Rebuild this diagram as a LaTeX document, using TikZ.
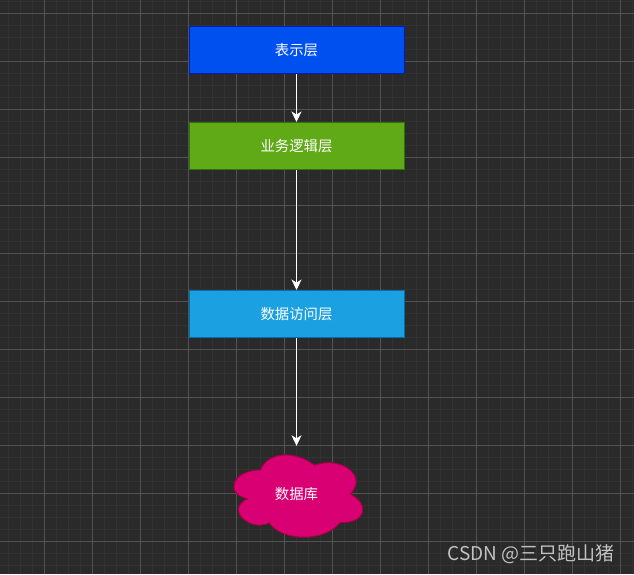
\documentclass[tikz,border=0pt]{standalone}
\usepackage{fontspec}
\setmainfont{Noto Sans CJK SC}
\usetikzlibrary{arrows.meta, positioning}
\usepackage{xcolor}
\definecolor{canvasbg}{HTML}{2A2A2A}
\definecolor{gridminor}{HTML}{323232}
\definecolor{gridmajor}{HTML}{535353}
\definecolor{presfill}{HTML}{0050EF}
\definecolor{presline}{HTML}{001DBC}
\definecolor{bizfill}{HTML}{60A917}
\definecolor{bizline}{HTML}{2D7600}
\definecolor{dalfill}{HTML}{1BA1E2}
\definecolor{dalline}{HTML}{006EAF}
\definecolor{dbfill}{HTML}{D80073}
\definecolor{dbline}{HTML}{A50040}

\begin{document}
\begin{tikzpicture}[
      x=1pt, y=-1pt,
      node distance=48pt,
      layer/.style={draw, line width=1pt, minimum width=215pt, minimum height=47pt, text=white, font=\fontsize{14.4}{16}\selectfont},
      dbtext/.style={minimum width=144pt, minimum height=96pt, inner sep=0pt, text=white, font=\fontsize{14.4}{16}\selectfont},
      cloudline/.style={fill=dbfill, draw=dbline, line width=1pt},
      link/.style={draw=white, line width=1pt, -{Stealth[length=10.5pt, width=10pt, inset=3pt]}},
      minorline/.style={draw=gridminor, line width=1pt},
      majorline/.style={draw=gridmajor, line width=1pt}
    ]
    \useasboundingbox (0,0) rectangle (634,574);
    \fill[canvasbg] (0,0) rectangle (634,574);

    % background grid
    \foreach \x in {8.5,20.5,...,633} \draw[minorline] (\x,0) -- (\x,574);
    \foreach \y in {1.5,13.5,...,574} \draw[minorline] (0,\y) -- (634,\y);
    \foreach \x in {44.5,92.5,...,633} \draw[majorline] (\x,0) -- (\x,574);
    \foreach \y in {13.5,61.5,...,574} \draw[majorline] (0,\y) -- (634,\y);

    \node[layer, fill=presfill, draw=presline] (pres) at (296.5,50) {表示层};
    \node[layer, fill=bizfill, draw=bizline, below=of pres] (biz) {业务逻辑层};
    \node[layer, fill=dalfill, draw=dalline, below=120pt of biz] (dal) {数据访问层};

    % cloud outline, in units of its 144x96 box
    \coordinate (dbbox) at (224.5,446);
    \begin{scope}[shift={(dbbox)}, x=144pt, y=-96pt]
      \filldraw[cloudline]
        (0.25,0.25) .. controls (0.05,0.25) and (0,0.5) .. (0.16,0.55)
        .. controls (0,0.66) and (0.18,0.9) .. (0.31,0.8)
        .. controls (0.4,1) and (0.7,1) .. (0.8,0.8)
        .. controls (1,0.8) and (1,0.6) .. (0.875,0.5)
        .. controls (1,0.3) and (0.8,0.1) .. (0.625,0.2)
        .. controls (0.5,0.05) and (0.3,0.05) .. (0.25,0.25) -- cycle;
    \end{scope}
    \node[dbtext] (db) at (296.5,494) {数据库};

    \draw[link] (pres) -- (biz);
    \draw[link] (biz) -- (dal);
    \draw[link] (dal) -- (db);

    \node[text=white!76!black, font=\fontsize{19}{20}\selectfont, anchor=east] (mark) at (618,554) {CSDN @三只跑山猪};
  \end{tikzpicture}
\end{document}
